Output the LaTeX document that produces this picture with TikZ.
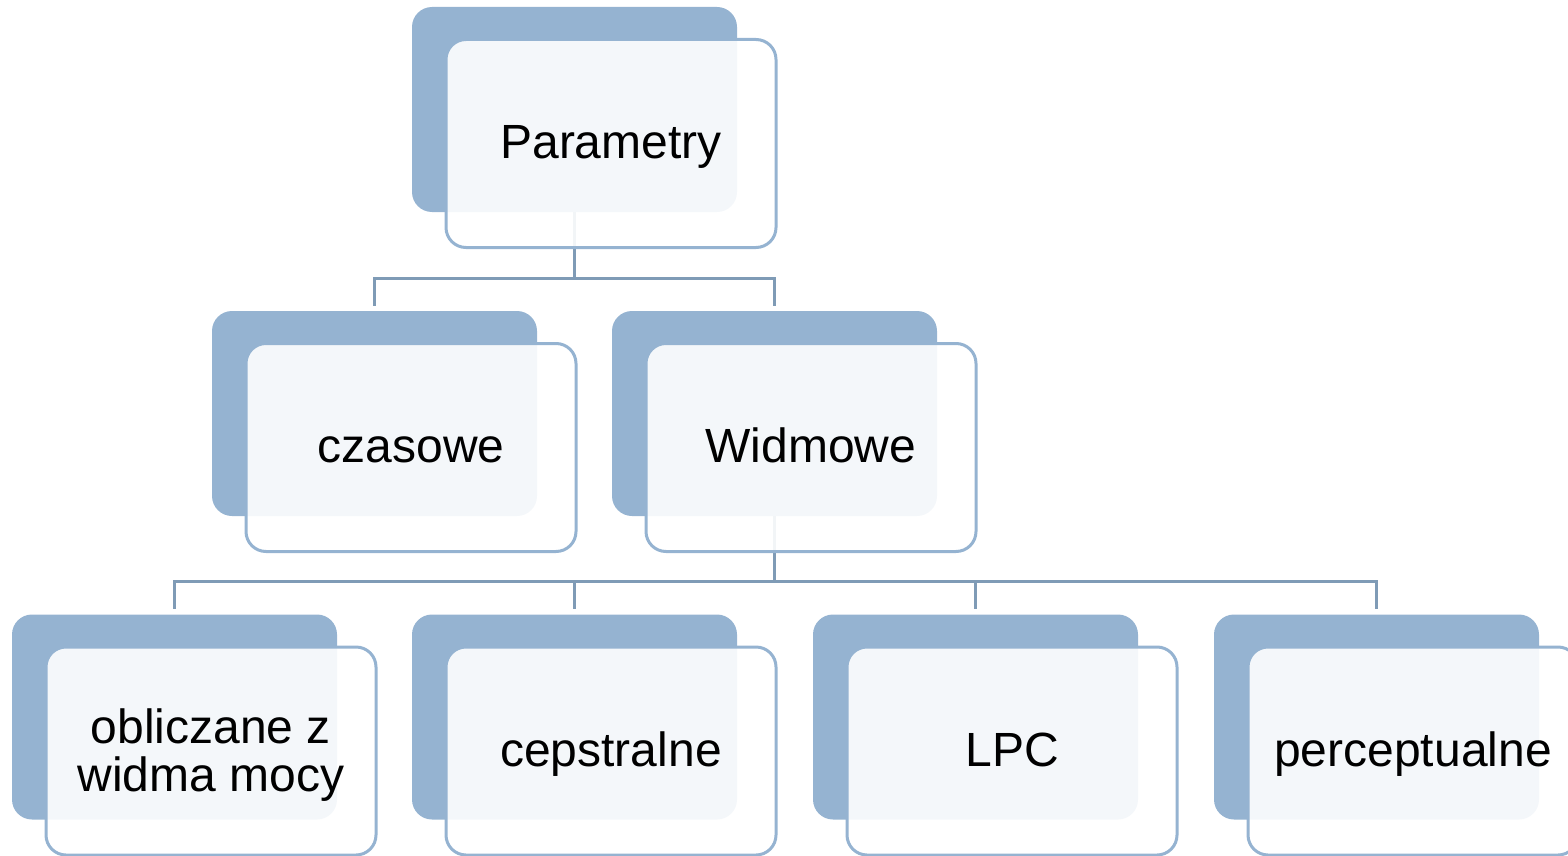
\documentclass[tikz,border=0pt]{standalone}
\usepackage{fontspec}
\setmainfont{Liberation Sans}
\usetikzlibrary{positioning}

\definecolor{boxblue}{HTML}{95B3D1}
\definecolor{linkblue}{HTML}{7F9BB6}

\begin{document}
\begin{tikzpicture}[
		x=0.5pt, y=-0.5pt,
		back/.style ={
			rectangle,	rounded corners=10pt,	fill=boxblue,
			inner sep=0pt,	minimum width=162.5pt,	minimum height=102.5pt
		},
		front/.style={
			rectangle,	rounded corners=10pt,	draw=boxblue,	fill=white,
			fill opacity=0.9,	text opacity=1,	line width=1.5pt,
			inner sep=0pt,	minimum width=165pt,	minimum height=104pt,
			align=center,	font=\fontsize{24}{24}\selectfont
		},
		oneline/.style={
			text height=17pt,	text depth=2pt
		},
		link/.style ={
			draw=linkblue,	line width=1.75pt,	shorten >=2.5pt
		},
	]

	\newcommand\rowa{109.5}
	\newcommand{\rowb}{413.5}
	\newcommand{\rowc}{717}

	\useasboundingbox (0,0) rectangle (1568,856);

	% back boxes
	\node (param-b) at (574.5, \rowa) [back] {};
	\node (czas-b)  at (374.5, \rowb) [back] {};
	\node (widm-b)  at (774.5, \rowb) [back] {};
	\foreach \i/\x in {1/174.5, 2/574.5, 3/975.5, 4/1376.5}
		\node (leaf\i-b) at (\x, \rowc) [back] {};

	% interconnections
	\draw [link] (param-b.south) -- ++(0,66) -| (czas-b.north);
	\draw [link] (param-b.south) -- ++(0,66) -| (widm-b.north);
	\foreach \i in {1,...,4}%
		\draw [link] (widm-b.south) -- ++(0,65) -| (leaf\i-b.north);

	% front boxes
	\node (param) at (611, \rowa+34) [front, oneline] {Parametry};
	\node (czas)  at (411, \rowb+34) [front, oneline] {czasowe};
	\node (widm)  at (811, \rowb+34) [front, oneline] {Widmowe};

	\node (leaf1) at (211,  \rowc+34) [front, text depth=1pt] {obliczane z\\widma mocy};
	\node (leaf2) at (611,  \rowc+34) [front, oneline] {cepstralne};
	\node (leaf3) at (1012, \rowc+34) [front, oneline] {LPC};
	\node (leaf4) at (1413, \rowc+34) [front, oneline] {perceptualne};

\end{tikzpicture}
\end{document}
